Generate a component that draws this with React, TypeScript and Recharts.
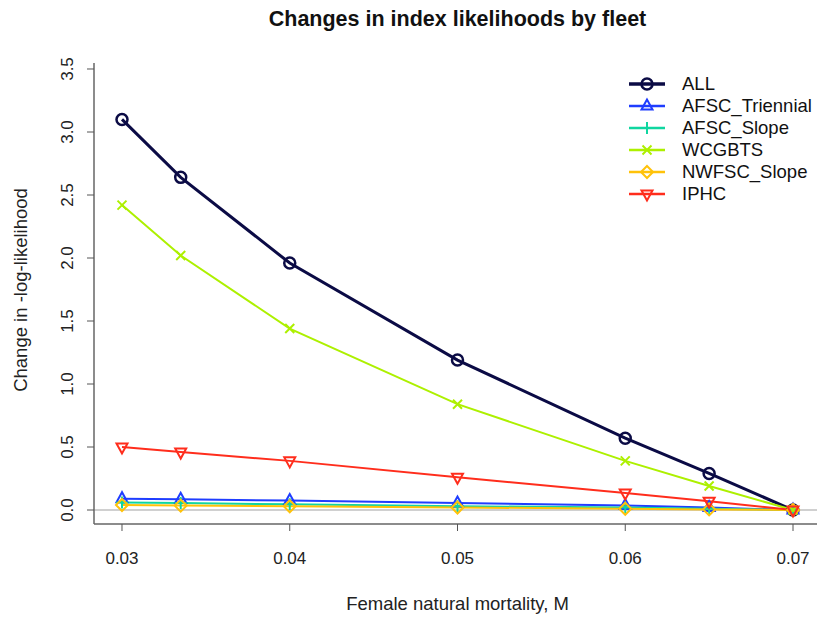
import { LineChart, Line, XAxis, YAxis, ReferenceLine, Legend } from 'recharts';

const mortality = [0.03, 0.0335, 0.04, 0.05, 0.06, 0.065, 0.07];
const allFleets = [3.1, 2.64, 1.96, 1.19, 0.57, 0.29, 0];
const afscTriennial = [0.09, 0.085, 0.075, 0.055, 0.035, 0.02, 0];
const afscSlope = [0.06, 0.055, 0.045, 0.03, 0.02, 0.01, 0];
const wcgbts = [2.42, 2.02, 1.44, 0.84, 0.39, 0.19, 0];
const nwfscSlope = [0.04, 0.035, 0.03, 0.02, 0.01, 0.005, 0];
const iphc = [0.5, 0.46, 0.39, 0.26, 0.135, 0.07, 0];

const xTicks = [0.03, 0.04, 0.05, 0.06, 0.07];
const yTicks = [0, 0.5, 1, 1.5, 2, 2.5, 3, 3.5];

const FONT = '"Liberation Sans", Arial, sans-serif';

type Shape = 'circle' | 'triUp' | 'plus' | 'cross' | 'diamond' | 'triDown';

const series: { key: string; name: string; color: string; shape: Shape; width: number; values: number[] }[] = [
  { key: 'all', name: 'ALL', color: '#0b0b45', shape: 'circle', width: 3, values: allFleets },
  { key: 'tri', name: 'AFSC_Triennial', color: '#1f3dff', shape: 'triUp', width: 2, values: afscTriennial },
  { key: 'slope', name: 'AFSC_Slope', color: '#10d6a0', shape: 'plus', width: 2, values: afscSlope },
  { key: 'wcgbts', name: 'WCGBTS', color: '#adf000', shape: 'cross', width: 2, values: wcgbts },
  { key: 'nwfsc', name: 'NWFSC_Slope', color: '#ffc20a', shape: 'diamond', width: 2, values: nwfscSlope },
  { key: 'iphc', name: 'IPHC', color: '#ff2d1c', shape: 'triDown', width: 2, values: iphc }
];

const chartData = mortality.map((m, i) => {
  const row: Record<string, number> = { m };
  series.forEach(s => {
    row[s.key] = s.values[i];
  });
  return row;
});

const Marker = ({ cx, cy, color, shape, sw }: { cx: number; cy: number; color: string; shape: Shape; sw: number }) => {
  const common = { fill: 'none', stroke: color, strokeWidth: sw };
  switch (shape) {
    case 'circle':
      return <circle cx={cx} cy={cy} r={5.5} {...common} />;
    case 'triUp':
      return <polygon points={`${cx},${cy - 6.5} ${cx - 5.5},${cy + 3.5} ${cx + 5.5},${cy + 3.5}`} {...common} />;
    case 'triDown':
      return <polygon points={`${cx},${cy + 6.5} ${cx - 5.5},${cy - 3.5} ${cx + 5.5},${cy - 3.5}`} {...common} />;
    case 'plus':
      return <path d={`M${cx - 6},${cy}H${cx + 6}M${cx},${cy - 6}V${cy + 6}`} {...common} />;
    case 'cross':
      return <path d={`M${cx - 4.5},${cy - 4.5}L${cx + 4.5},${cy + 4.5}M${cx - 4.5},${cy + 4.5}L${cx + 4.5},${cy - 4.5}`} {...common} />;
    case 'diamond':
      return <polygon points={`${cx},${cy - 6} ${cx + 6},${cy} ${cx},${cy + 6} ${cx - 6},${cy}`} {...common} />;
  }
  return null;
};

const renderLegend = () => (
  <div style={{ fontFamily: FONT, fontSize: 18.5, color: '#111' }}>
    {series.map(s => (
      <div key={s.key} style={{ display: 'flex', alignItems: 'center', height: 22 }}>
        <svg width={40} height={20} style={{ marginRight: 15 }}>
          <line x1={2} y1={10} x2={38} y2={10} stroke={s.color} strokeWidth={s.width + 0.5} />
          <Marker cx={20} cy={10} color={s.color} shape={s.shape} sw={s.shape === 'circle' ? 2.5 : 2} />
        </svg>
        <span>{s.name}</span>
      </div>
    ))}
  </div>
);

const YTick = (props: any) => {
  const { y, payload } = props;
  const tx = 68;
  return (
    <text
      x={tx}
      y={y}
      transform={`rotate(-90, ${tx}, ${y})`}
      textAnchor="middle"
      dominantBaseline="central"
      fontSize={17}
      fontFamily={FONT}
      fill="#222"
    >
      {Number(payload.value).toFixed(1)}
    </text>
  );
};

export default function App() {
  return (
    <div style={{ position: 'absolute', left: 0, top: 0, width: 817, height: 617, background: '#fff', overflow: 'hidden' }}>
      <div
        style={{
          position: 'absolute',
          left: 94,
          width: 727,
          top: 7,
          textAlign: 'center',
          fontFamily: FONT,
          fontWeight: 'bold',
          fontSize: 21.5,
          color: '#111'
        }}
      >
        Changes in index likelihoods by fleet
      </div>
      <div
        style={{
          position: 'absolute',
          left: 21,
          top: 290,
          transform: 'translate(-50%, -50%) rotate(-90deg)',
          whiteSpace: 'nowrap',
          fontFamily: FONT,
          fontSize: 18.5,
          color: '#222'
        }}
      >
        Change in -log-likelihood
      </div>
      <div
        style={{
          position: 'absolute',
          left: 94,
          width: 727,
          top: 593,
          textAlign: 'center',
          fontFamily: FONT,
          fontSize: 18.5,
          color: '#222'
        }}
      >
        Female natural mortality, M
      </div>
      <LineChart
        width={817}
        height={617}
        data={chartData}
        margin={{ top: 63, right: -4, left: 8, bottom: 0 }}
        style={{ position: 'absolute', left: 0, top: 0 }}
      >
        <XAxis
          xAxisId="top"
          orientation="top"
          dataKey="m"
          type="number"
          domain={[0.028331, 0.071669]}
          height={0}
          tick={false}
          tickLine={false}
          axisLine={{ stroke: '#666', strokeWidth: 1.5 }}
        />
        <XAxis
          dataKey="m"
          type="number"
          domain={[0.028331, 0.071669]}
          ticks={xTicks}
          height={93}
          tickSize={7}
          tickMargin={21}
          tickFormatter={v => Number(v).toFixed(2)}
          tick={{ fontSize: 17, fontFamily: FONT, fill: '#222' }}
          tickLine={{ stroke: '#555' }}
          axisLine={{ stroke: '#666', strokeWidth: 1.5 }}
          allowDataOverflow
        />
        <YAxis
          type="number"
          domain={[-0.111, 3.5476]}
          ticks={yTicks}
          width={86}
          tickSize={7}
          tick={<YTick />}
          tickLine={{ stroke: '#555' }}
          axisLine={{ stroke: '#666', strokeWidth: 1.5 }}
          allowDataOverflow
        />
        <ReferenceLine y={0} stroke="#d0d0d0" strokeWidth={2} />
        <Legend
          verticalAlign="middle"
          align="center"
          layout="vertical"
          content={renderLegend}
          wrapperStyle={{ position: 'absolute', left: 627, top: 73, width: 190 }}
        />
        {series.map(s => (
          <Line
            key={s.key}
            dataKey={s.key}
            name={s.name}
            type="linear"
            stroke={s.color}
            strokeWidth={s.width}
            isAnimationActive={false}
            activeDot={false}
            dot={(p: any) => (
              <Marker
                key={`${s.key}-${p.index}`}
                cx={p.cx}
                cy={p.cy}
                color={s.color}
                shape={s.shape}
                sw={s.shape === 'circle' ? 2.5 : 2}
              />
            )}
          />
        ))}
      </LineChart>
    </div>
  );
}
